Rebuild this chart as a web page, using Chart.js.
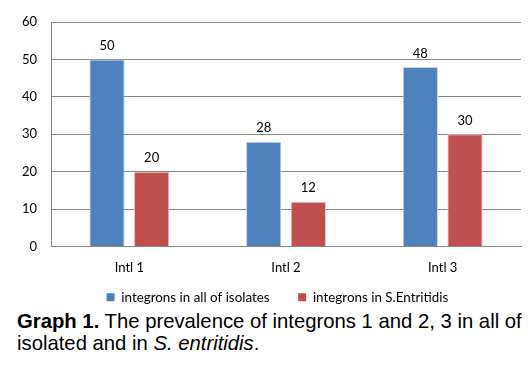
<!DOCTYPE html>
<html lang="en">
<head>
  <meta charset="UTF-8">
  <title>Graph 1 - Integrons</title>
  <script src="https://cdn.jsdelivr.net/npm/chart.js"></script>
  <style>
    body { margin: 0; background: #fff; width: 532px; height: 366px; position: relative; overflow: hidden; }
    #wrap { position: absolute; left: 0; top: 0; width: 532px; height: 314px; }
    #caption {
      position: absolute; left: 17px; top: 310px; width: 515px;
      font-family: "Liberation Sans", Arial, sans-serif; font-size: 20.3px; line-height: 22px; color: #000;
    }
  </style>
</head>
<body>
  <div id="caption"><b>Graph 1.</b> The prevalence of integrons 1 and 2, 3 in all of isolated and in <i>S. entritidis</i>.</div>
  <div id="wrap"><canvas id="intChart"></canvas></div>

  <script>
    const categories = ['Intl 1', 'Intl 2', 'Intl 3'];
    const allIsolates = [50, 28, 48];
    const sEntritidis = [20, 12, 30];
    const yTicks = [0, 10, 20, 30, 40, 50, 60];

    const legendFont = '13.4px Lato';
    const legendGaps = [19, 18]; // extra room after each legend entry, px

    // numbers above each bar
    const barLabels = {
      id: 'barLabels',
      afterDatasetsDraw(chart) {
        const ctx = chart.ctx;
        ctx.save();
        ctx.font = '13px Lato';
        ctx.fillStyle = '#000';
        ctx.textAlign = 'center';
        ctx.textBaseline = 'bottom';
        chart.data.datasets.forEach((ds, i) => {
          chart.getDatasetMeta(i).data.forEach((bar, j) => {
            ctx.fillText(ds.data[j], bar.x, bar.y - 7);
          });
        });
        ctx.restore();
      }
    };

    new Chart(document.getElementById('intChart'), {
      type: 'bar',
      data: {
        labels: categories,
        datasets: [{
          label: 'integrons in all of isolates',
          data: allIsolates,
          backgroundColor: '#4F81BD',
          borderColor: '#c6d5e8',
          borderWidth: 1
        }, {
          label: 'integrons in S.Entritidis',
          data: sEntritidis,
          backgroundColor: '#C0504D',
          borderColor: '#e8c3c2',
          borderWidth: 1
        }]
      },
      options: {
        responsive: true,
        maintainAspectRatio: false,
        animation: false,
        categoryPercentage: 0.57,
        barPercentage: 0.79,
        layout: { padding: { top: 22, right: 11, left: 0, bottom: 0 } },
        plugins: {
          tooltip: { enabled: false },
          legend: {
            position: 'bottom',
            fullSize: false,
            labels: {
              boxWidth: 8, boxHeight: 8, padding: 8,
              color: '#000',
              font: { family: 'Lato', size: 13.4 },
              generateLabels(chart) {
                const items = Chart.defaults.plugins.legend.labels.generateLabels(chart);
                const ctx = chart.ctx;
                ctx.save();
                ctx.font = legendFont;
                const sp = ctx.measureText(' ').width || 3.5;
                ctx.restore();
                items.forEach((it, i) => {
                  it.text += ' '.repeat(Math.round(legendGaps[i] / sp));
                  it.fillStyle = chart.data.datasets[i].backgroundColor;
                  it.strokeStyle = chart.data.datasets[i].backgroundColor;
                  it.lineWidth = 0;
                });
                return items;
              }
            }
          }
        },
        scales: {
          x: {
            afterFit: s => { s.height = 36; },
            grid: { display: false, drawTicks: false },
            border: { display: true, color: '#868686' },
            ticks: { color: '#000', padding: 13, font: { family: 'Lato', size: 13 } }
          },
          y: {
            min: 0, max: 60,
            afterFit: s => { s.width = 51; },
            afterBuildTicks: s => { s.ticks = yTicks.map(v => ({ value: v })); },
            grid: { color: '#868686', drawTicks: false },
            border: { display: true, color: '#868686' },
            ticks: { color: '#000', padding: 14, font: { family: 'Lato', size: 13 } }
          }
        }
      },
      plugins: [barLabels]
    });
  </script>
</body>
</html>
